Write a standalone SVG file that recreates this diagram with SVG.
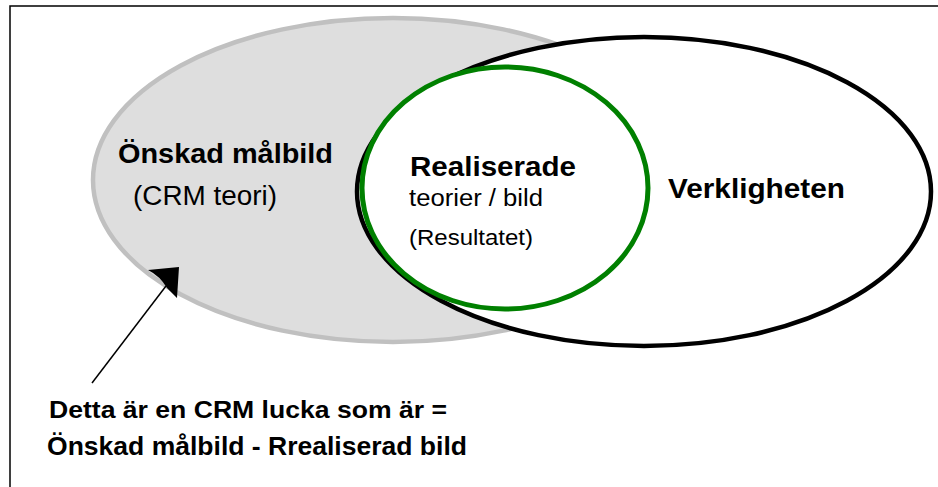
<svg xmlns="http://www.w3.org/2000/svg" width="938" height="487" viewBox="0 0 938 487">
<style>
text{font-family:"Liberation Sans",Arial,sans-serif;fill:#000}
.b{font-weight:bold}
</style>
<rect x="0" y="0" width="938" height="487" fill="#fff"/>
<rect x="10" y="6" width="1000" height="600" fill="none" stroke="#000" stroke-width="1.5"/>
<g id="onskad">
<ellipse cx="393" cy="180" rx="300" ry="162" fill="#dedede" stroke="#c0c0c0" stroke-width="4.5"/>
<text class="b" x="118" y="163" font-size="28" textLength="215" lengthAdjust="spacingAndGlyphs">Önskad målbild</text>
<text x="133" y="205" font-size="27" textLength="144" lengthAdjust="spacingAndGlyphs">(CRM teori)</text>
</g>
<g id="verkligheten">
<ellipse cx="644" cy="191.5" rx="287" ry="154.5" fill="#fff" stroke="#000" stroke-width="4.5"/>
<text class="b" x="668" y="198" font-size="28" textLength="177" lengthAdjust="spacingAndGlyphs">Verkligheten</text>
</g>
<g id="realiserade">
<ellipse cx="505" cy="188" rx="143" ry="121" fill="#fff" stroke="#008000" stroke-width="5"/>
<text class="b" x="410" y="176" font-size="27" textLength="166" lengthAdjust="spacingAndGlyphs">Realiserade</text>
<text x="409" y="206" font-size="23" textLength="134" lengthAdjust="spacingAndGlyphs">teorier / bild</text>
<text x="409" y="245" font-size="22" textLength="124" lengthAdjust="spacingAndGlyphs">(Resultatet)</text>
</g>
<g id="connectors">
<line x1="92" y1="383" x2="166" y2="286" stroke="#000" stroke-width="1.5"/>
<path d="M179,267 L177,298 L167,288 Q160,276 148,270 Z" fill="#000"/>
</g>
<g id="note">
<text class="b" x="49" y="418" font-size="24" textLength="398" lengthAdjust="spacingAndGlyphs">Detta är en CRM lucka som är =</text>
<text class="b" x="47" y="455" font-size="25" textLength="420" lengthAdjust="spacingAndGlyphs">Önskad målbild - Rrealiserad bild</text>
</g>
</svg>
